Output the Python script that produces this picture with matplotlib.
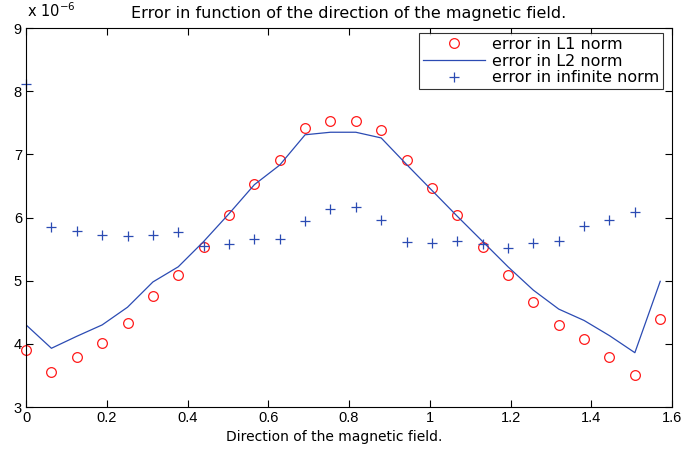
import matplotlib
matplotlib.use("Agg")
import matplotlib.pyplot as plt
import numpy as np

plt.rcParams['font.family'] = ['Liberation Sans', 'DejaVu Sans']

# direction of the field (radians), values in units of 1e-6
angle = [0.0000, 0.0628, 0.1257, 0.1885, 0.2513, 0.3142, 0.3770, 0.4398, 0.5027,
         0.5655, 0.6283, 0.6912, 0.7540, 0.8168, 0.8796, 0.9425, 1.0053, 1.0681,
         1.1310, 1.1938, 1.2566, 1.3195, 1.3823, 1.4451, 1.5080, 1.5708]

err_l1 = [3.90, 3.56, 3.79, 4.02, 4.33, 4.76, 5.09, 5.54, 6.04, 6.53, 6.91, 7.41, 7.53,
          7.53, 7.38, 6.91, 6.47, 6.04, 5.54, 5.09, 4.67, 4.30, 4.07, 3.79, 3.50, 4.40]

err_l2 = [4.30, 3.93, 4.12, 4.30, 4.58, 4.98, 5.22, 5.62, 6.06, 6.52, 6.83, 7.31, 7.35,
          7.35, 7.26, 6.84, 6.43, 6.02, 5.62, 5.22, 4.85, 4.55, 4.37, 4.13, 3.86, 4.99]

err_inf = [8.11, 5.85, 5.78, 5.72, 5.71, 5.72, 5.77, 5.55, 5.58, 5.66, 5.66, 5.95, 6.13,
           6.17, 5.96, 5.61, 5.60, 5.63, 5.58, 5.51, 5.59, 5.63, 5.86, 5.96, 6.08, np.nan]

wide = 'DejaVu Sans'

fig = plt.figure(figsize=(6.86, 4.49), dpi=100)
ax = fig.add_axes([0.038, 0.0935, 0.9416, 0.8441])

ax.plot(angle, err_l1, 'o', mfc='none', mec='#ff1a1a', ms=7, mew=0.9,
        label='error in L1 norm', clip_on=False)
ax.plot(angle, err_l2, '-', color='#2b4bb3', lw=0.9, label='error in L2 norm')
ax.plot(angle, err_inf, '+', color='#2b4bb3', ms=7.5, mew=0.9,
        label='error in infinite norm', clip_on=False)

ax.set_xlim(0, 1.6)
ax.set_ylim(3, 9)
ax.set_xticks([0, 0.2, 0.4, 0.6, 0.8, 1, 1.2, 1.4, 1.6])
ax.set_xticklabels(['0', '0.2', '0.4', '0.6', '0.8', '1', '1.2', '1.4', '1.6'])
ax.set_yticks([3, 4, 5, 6, 7, 8, 9])
ax.tick_params(direction='in', top=True, right=True, labelsize=10.5, length=5, pad=3)
for s in ax.spines.values():
    s.set_linewidth(0.8)

ax.text(0.001, 1.022, r'x 10$^{-6}$', transform=ax.transAxes, fontsize=10.5,
        family=wide, ha='left', va='bottom')
ax.set_title('Error in function of the direction of the magnetic field.',
             fontsize=11.5, family=wide, pad=7)
ax.set_xlabel('Direction of the magnetic field.', fontsize=10, family=wide)
ax.xaxis.set_label_coords(0.477, -0.06)

leg = ax.legend(loc='upper right', bbox_to_anchor=(0.986, 0.987),
                frameon=True, fancybox=False, edgecolor='black',
                borderaxespad=0, handlelength=3.9, handletextpad=0.4,
                labelspacing=0.1, borderpad=0.25,
                prop={'family': wide, 'size': 11.5})
leg.get_frame().set_linewidth(0.8)

fig.savefig('out.png', dpi=100)
